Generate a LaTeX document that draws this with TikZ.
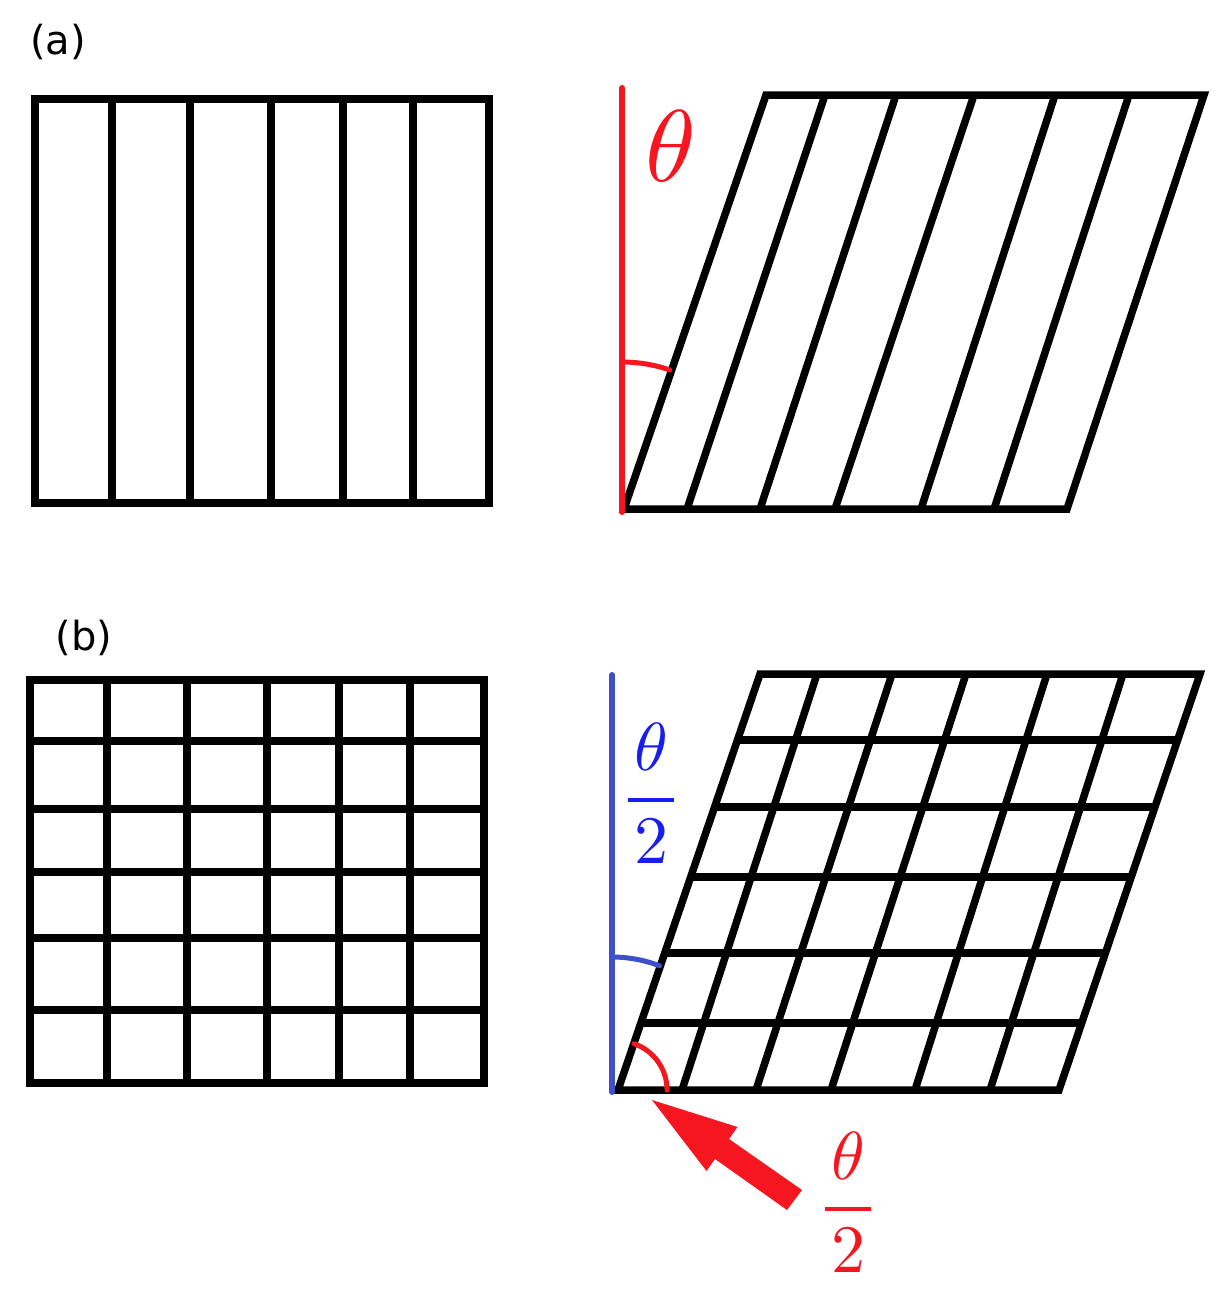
\documentclass[tikz,border=0pt]{standalone}
\usepackage{amsmath}
\usepackage{fontspec}
\usepackage{unicode-math}
\newfontfamily\labelfont{DejaVu Sans}
\definecolor{myred}{RGB}{245,22,32}
\definecolor{lineblue}{RGB}{62,80,200}
\definecolor{textblue}{RGB}{25,30,240}
\newcommand{\halftheta}{\genfrac{}{}{3.5pt}{0}{\mkern1.5mu\theta\mkern1.5mu}{\mkern1.5mu 2\mkern1.5mu}}
\tikzset{
  blk/.style={line width=7.5pt, black, line join=miter},
  redline/.style={line width=6pt, myred, line cap=round},
  blueline/.style={line width=6pt, lineblue, line cap=round},
  redarc/.style={line width=5pt, myred, line cap=round},
  bluearc/.style={line width=5pt, lineblue, line cap=round},
  lbl/.style={font=\labelfont\fontsize{40}{40}\selectfont, inner sep=0},
  frac/.style={anchor=base, inner sep=0, font=\fontsize{68}{68}\selectfont},
}
\begin{document}
\begin{tikzpicture}[x=1pt,y=-1pt]
\useasboundingbox (0,0) rectangle (1224,1294);

% labels
\node[lbl] (labA) at (58,42) {(a)};
\node[lbl] (labB) at (84,638) {(b)};

% (a) left: rectangle with vertical lines
\foreach \x in {112,190,271,343,413} \draw[blk] (\x,99) -- (\x,503);
\draw[blk] (35,99) rectangle (489,503);

% (a) right: sheared
\foreach \t/\b in {825/687, 896/760, 974/835, 1055/921, 1129/994} \draw[blk] (\t,95) -- (\b,509);
\draw[blk] (624,509) -- (766,95) -- (1204,95) -- (1067,509) -- cycle;
\draw[redline] (622,88) -- (622,512);
\draw[redarc] (622,362) arc[start angle=-90, end angle=-71, radius=147];
\node[anchor=base, inner sep=0, text=myred, font=\fontsize{102}{102}\selectfont] (thetaA) at (670,181) {$\theta$};

% (b) left: square grid
\foreach \x in {107,187,267,339,410} \draw[blk] (\x,680) -- (\x,1083);
\foreach \y in {741,809,872,938,1010} \draw[blk] (30,\y) -- (484,\y);
\draw[blk] (30,680) rectangle (484,1083);

% (b) right: sheared grid
\foreach \t/\b in {817/682, 892/756, 966/831, 1047/915, 1123/990} \draw[blk] (\t,674) -- (\b,1090);
\foreach \y in {740,807,877,953,1023} \draw[blk] ({618+(1090-\y)*0.341},\y) -- ({1059+(1090-\y)*0.341},\y);
\draw[blk] (618,1090) -- (760,674) -- (1200,674) -- (1059,1090) -- cycle;
\draw[blueline] (612,675) -- (612,1092);
\draw[bluearc] (612,957) arc[start angle=-90, end angle=-69, radius=133];
\draw[redarc] (634,1043.7) arc[start angle=-71, end angle=0, radius=49];
\node[frac, text=textblue] (fracB) at (651,817) {$\halftheta$};

% red block arrow
\fill[myred] (652,1100) -- (737.5,1127) -- (729,1139) -- (802,1190) -- (787,1210) -- (715,1159) -- (706.5,1171) -- cycle;
\node[frac, text=myred] (fracC) at (848,1226) {$\halftheta$};
\end{tikzpicture}
\end{document}
